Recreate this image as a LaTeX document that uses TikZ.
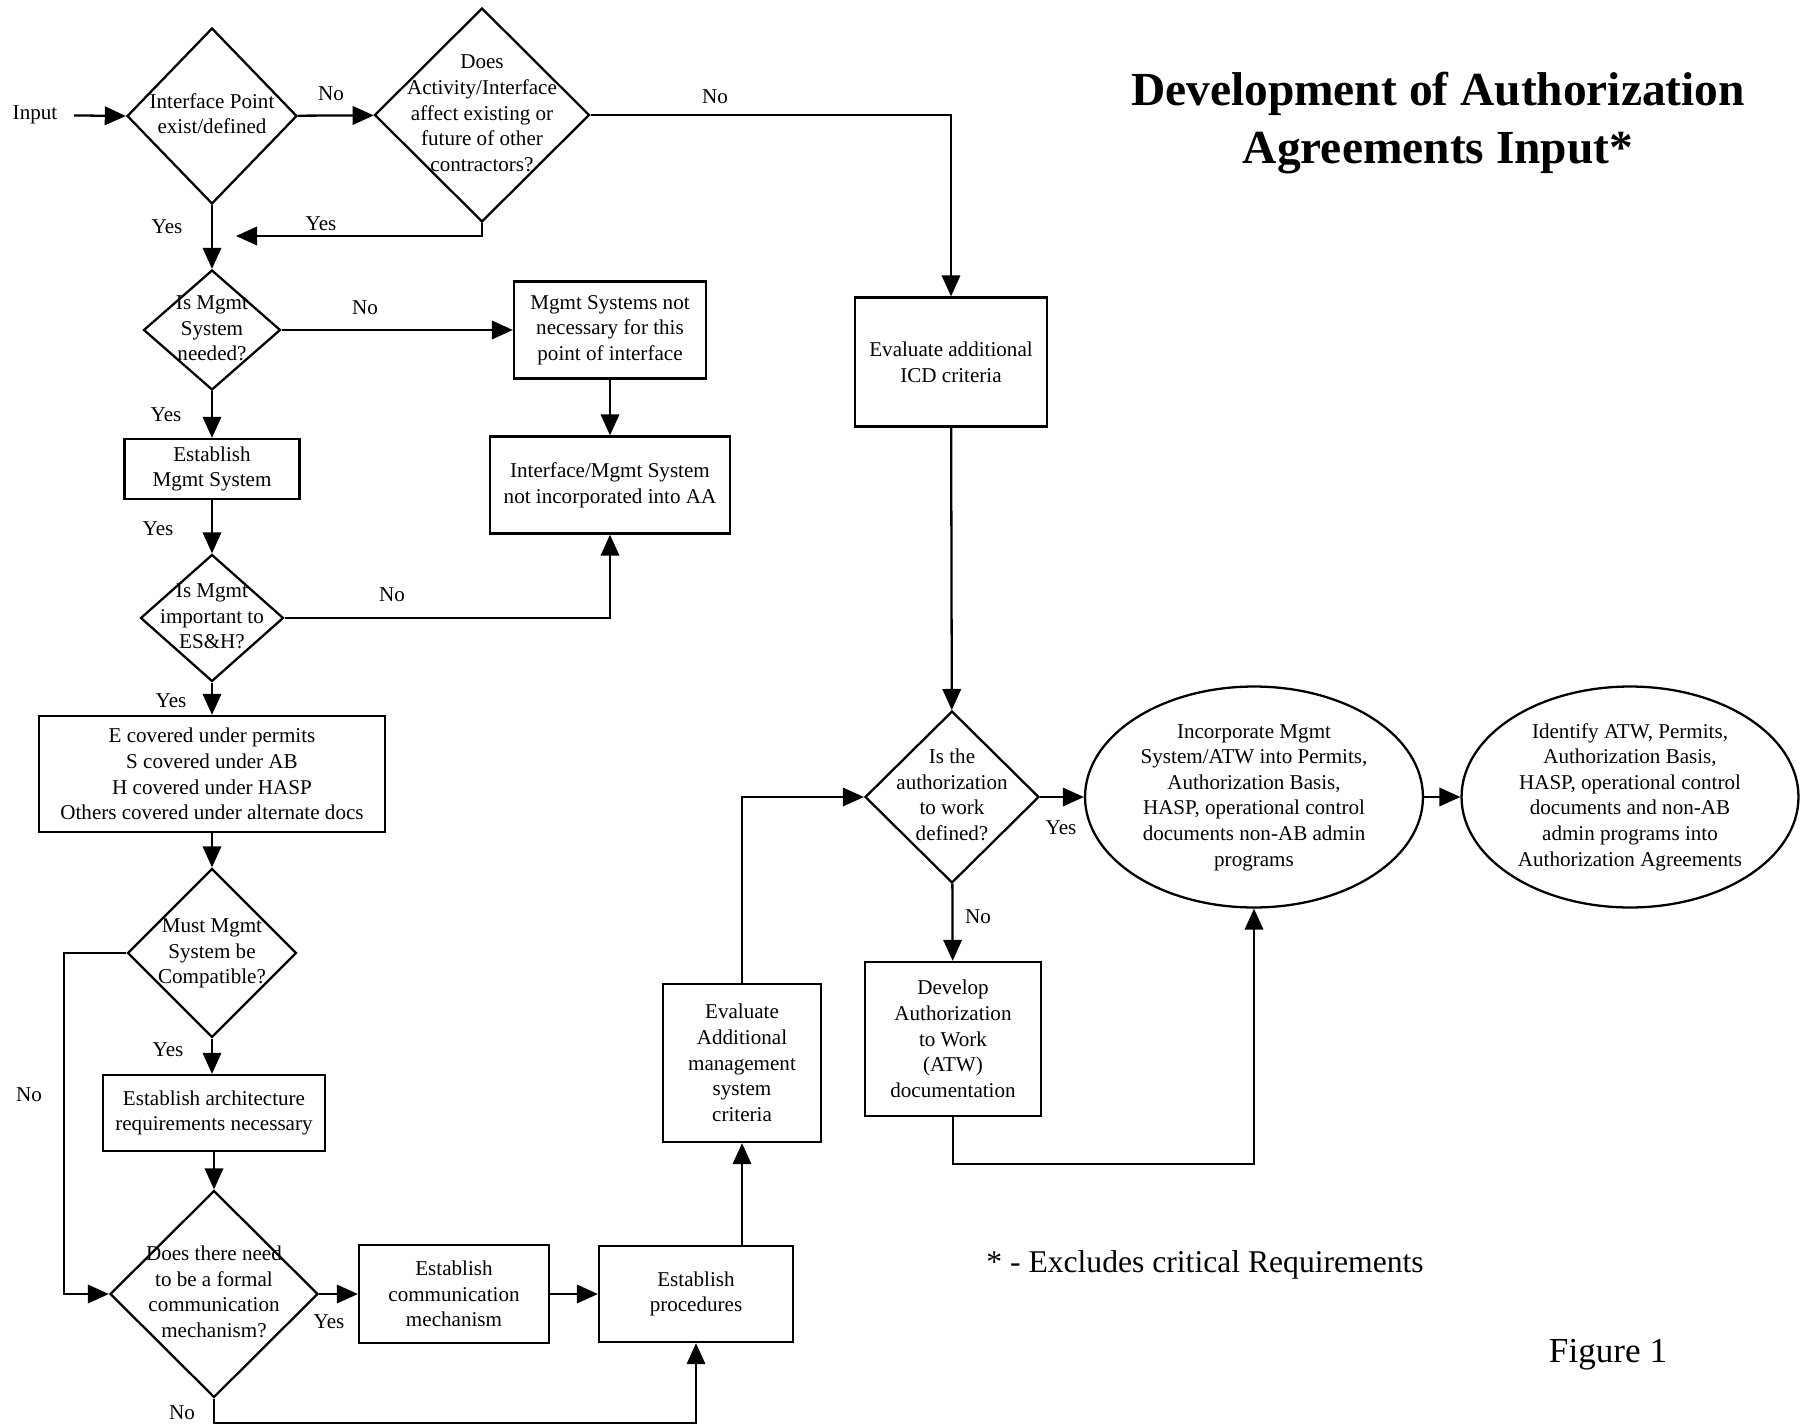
\documentclass[tikz,border=0pt]{standalone}
\usepackage{fontspec}
\setmainfont{Liberation Serif}
\usepackage{tikz}
\usetikzlibrary{shapes.geometric,arrows.meta}

\newcommand{\dtext}[1]{\makebox[0pt]{\begin{tabular}{@{}c@{}}#1\end{tabular}}}

\begin{document}
\begin{tikzpicture}[x=0.02cm, y=-0.02cm, line width=1.3pt,
  >={Triangle[length=12pt,width=10.5pt]},
  font=\fontsize{12}{14.6}\selectfont,
  box/.style={draw, rectangle, align=center, inner sep=2pt},
  decision/.style={draw, diamond, inner sep=0pt},
  goal/.style={draw, ellipse, inner sep=0pt},
  lbl/.style={inner sep=1pt}]

\useasboundingbox (0,0) rectangle (1804,1425);

% title and notes
\path
(1438,123) node[align=center, font=\fontsize{27}{32.7}\selectfont\bfseries](title) {Development of Authorization\\Agreements Input*}
(1205,1265) node[font=\fontsize{18}{22}\selectfont](note) {* - Excludes critical Requirements}
(1608,1355) node[font=\fontsize{20}{24}\selectfont](fig) {Figure 1};

%% left column
\path
(35,115) node[lbl](input) {Input}
(212,116) node[decision, minimum width=3.4cm, minimum height=3.52cm](exist) {\dtext{Interface Point\\exist/defined}}
(482,115) node[decision, minimum width=4.3cm, minimum height=4.28cm](affect) {\dtext{Does\\Activity/Interface\\affect existing or\\future of other\\contractors?}}
(212,330) node[decision, minimum width=2.74cm, minimum height=2.4cm](needed) {\dtext{Is Mgmt\\System\\needed?}}
(610,330) node[box, minimum width=3.84cm, minimum height=1.94cm](notneeded) {Mgmt Systems not\\necessary for this\\point of interface}
(610,485) node[box, minimum width=4.8cm, minimum height=1.94cm](notincorp) {Interface/Mgmt System\\not incorporated into AA}
(212,469) node[box, minimum width=3.5cm, minimum height=1.2cm](estmgmt) {Establish\\Mgmt System}
(212,618) node[decision, minimum width=2.86cm, minimum height=2.54cm](important) {\dtext{Is Mgmt\\important to\\ES\&H?}}
(212,774) node[box, minimum width=6.92cm, minimum height=2.32cm](covered) {E covered under permits\\S covered under AB\\H covered under HASP\\Others covered under alternate docs}
(212,953) node[decision, minimum width=3.38cm, minimum height=3.38cm](compat) {\dtext{Must Mgmt\\System be\\Compatible?}}
(214,1113) node[box, minimum width=4.44cm, minimum height=1.52cm](arch) {Establish architecture\\requirements necessary}
(214,1294) node[decision, minimum width=4.16cm, minimum height=4.14cm](formal) {\dtext{Does there need\\to be a formal\\communication\\mechanism?}}
(454,1294) node[box, minimum width=3.8cm, minimum height=1.96cm](comm) {Establish\\communication\\mechanism}
(696,1294) node[box, minimum width=3.88cm, minimum height=1.92cm](proc) {Establish\\procedures};

%% right part
\path
(742,1063) node[box, minimum width=3.16cm, minimum height=3.16cm](evalmgmt) {Evaluate\\Additional\\management\\system\\criteria}
(951,362) node[box, minimum width=3.84cm, minimum height=2.58cm](evalicd) {Evaluate additional\\ICD criteria}
(952,797) node[decision, minimum width=3.48cm, minimum height=3.44cm](defined) {\dtext{Is the\\authorization\\to work\\defined?}}
(953,1039) node[box, minimum width=3.52cm, minimum height=3.08cm](develop) {Develop\\Authorization\\to Work\\(ATW)\\documentation}
(1254,797) node[goal, minimum width=6.76cm, minimum height=4.42cm](incorp) {\dtext{Incorporate Mgmt\\System/ATW into Permits,\\Authorization Basis,\\HASP, operational control\\documents non-AB admin\\programs}}
(1630,797) node[goal, minimum width=6.74cm, minimum height=4.42cm](identify) {\dtext{Identify ATW, Permits,\\Authorization Basis,\\HASP, operational control\\documents and non-AB\\admin programs into\\Authorization Agreements}};

% turning points
\coordinate (yesend) at (236,236);
\coordinate (noturn) at (64,953);
\coordinate (nobottom) at (214,1423);
\coordinate (atwturn) at (953,1164);

%% Arrows of the left column
\draw[->, shorten <=8pt] (input) -- (exist.west);
\draw[->] (exist) -- (affect);
\draw[->] (affect.east) -| (evalicd.north);
\draw[->] (affect.south) |- (yesend);
\draw[->] (exist) -- (needed);
\draw[->] (needed) -- (notneeded);
\draw[->] (notneeded) -- (notincorp);
\draw[->] (needed) -- (estmgmt);
\draw[->] (estmgmt) -- (important);
\draw[->] (important.east) -| (notincorp.south);
\draw[->] (important) -- (covered);
\draw[->] (covered) -- (compat);
\draw[->] (compat) -- (compat |- arch.north);
\draw[->] (compat.west) -- (noturn) |- (formal.west);
\draw[->] (arch) -- (formal);
\draw[->] (formal) -- (comm);
\draw[->] (comm) -- (proc);
\draw[->] (formal.south) -- (nobottom) -| (proc.south);

%% Arrows of the right part
\draw[->] (evalmgmt.south |- proc.north) -- (evalmgmt.south);
\draw[->] (evalmgmt.north) |- (defined.west);
\draw[->] (evalicd) -- (defined);
\draw[->] (defined) -- (incorp);
\draw[->] (incorp) -- (identify);
\draw[->] (defined) -- (develop);
\draw[->] (develop.south) -- (atwturn) -| (incorp.south);

% yes / no labels
\path
(331,94) node[lbl](no1) {No}
(715,97) node[lbl](no2) {No}
(321,224) node[lbl](yes1) {Yes}
(167,227) node[lbl](yes2) {Yes}
(365,308) node[lbl](no3) {No}
(166,415) node[lbl](yes3) {Yes}
(158,529) node[lbl](yes4) {Yes}
(392,595) node[lbl](no4) {No}
(171,701) node[lbl](yes5) {Yes}
(168,1050) node[lbl](yes6) {Yes}
(29,1095) node[lbl](no5) {No}
(329,1322) node[lbl](yes7) {Yes}
(182,1413) node[lbl](no6) {No}
(1061,828) node[lbl](yes8) {Yes}
(978,917) node[lbl](no7) {No};

\end{tikzpicture}
\end{document}
